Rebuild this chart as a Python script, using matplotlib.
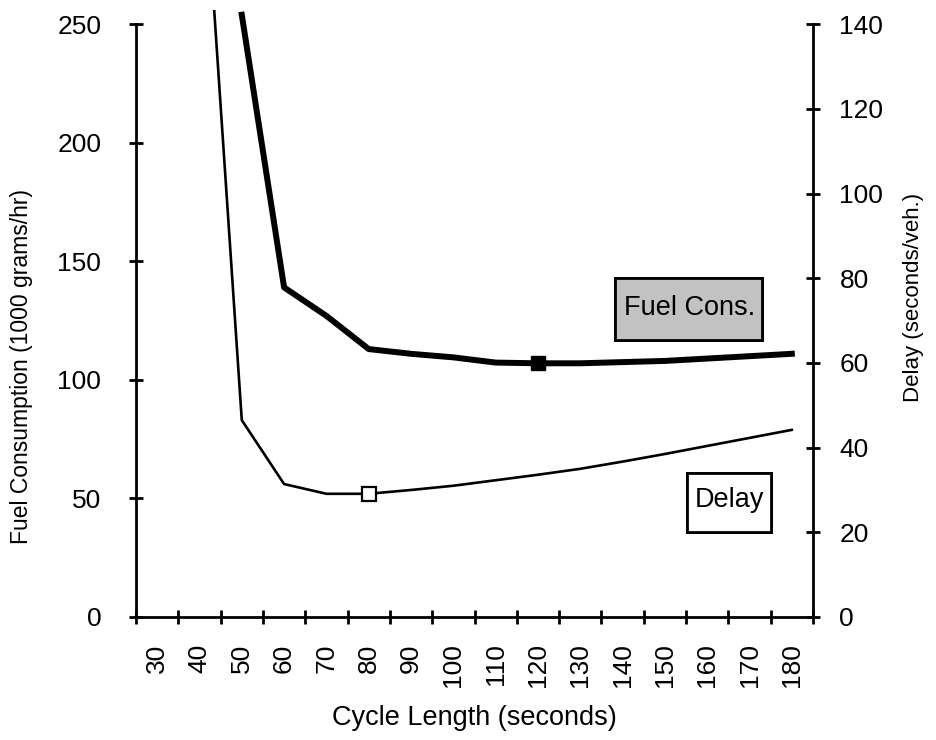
import numpy as np
import matplotlib
matplotlib.use("Agg")
import matplotlib.pyplot as plt
from matplotlib.patches import Rectangle
import matplotlib.patheffects as pe

plt.rcParams['font.family'] = ['Liberation Sans', 'DejaVu Sans']

# data
cycle_length = [30, 40, 50, 60, 70, 80, 90, 100, 110, 120, 130, 140, 150, 160, 170, 180]
fuel = [np.nan, np.nan, 254, 139, 127, 113, 111, 109.5, 107.3, 107, 107, 107.5, 108, 109, 110, 111]
delay = [np.nan, 195, 46.5, 31.4, 29.1, 29.1, 30.0, 31.0, 32.3, 33.6, 35.0, 36.7, 38.5, 40.4, 42.3, 44.2]
fuel_mark = 9    # 120 s, optimum fuel
delay_mark = 5   # 80 s, optimum delay

fuel_ticks = [0, 50, 100, 150, 200, 250]
delay_ticks = [0, 20, 40, 60, 80, 100, 120, 140]

x = np.arange(len(cycle_length))

fig = plt.figure(figsize=(9.36, 7.4), dpi=100)
ax = fig.add_axes([136 / 936, 1 - 617 / 740, 677 / 936, 607 / 740])
ax2 = ax.twinx()

ytop = 256
ax.set_ylim(0, ytop)
ax2.set_ylim(0, 140 * ytop / 250)
ax.set_xlim(-0.5, len(x) - 0.5)

ax.plot(x, fuel, color='black', lw=4.3, solid_joinstyle='round')
ax.plot(x[fuel_mark], fuel[fuel_mark], 's', ms=10, mfc='black', mec='black')
ax2.plot(x, delay, color='black', lw=1.9)
ax2.plot(x[delay_mark], delay[delay_mark], 's', ms=10, mfc='white', mec='black', mew=1.6)

# spines
for a in (ax, ax2):
    for s in a.spines.values():
        s.set_linewidth(2)
ax.spines['top'].set_visible(False)
ax.spines['right'].set_visible(False)
ax2.spines['top'].set_visible(False)
ax2.spines['left'].set_visible(False)
ax2.spines['bottom'].set_visible(False)
ax.spines['left'].set_bounds(0, 250)
ax2.spines['right'].set_bounds(0, 140)

ax.set_yticks(fuel_ticks)
ax2.set_yticks(delay_ticks)
ax.tick_params(axis='y', direction='inout', length=10, width=2, pad=20, labelsize=19)
ax2.tick_params(axis='y', direction='inout', length=10, width=2, pad=14, labelsize=19)

ax.set_xticks(np.arange(-0.5, len(x), 1))
ax.set_xticklabels([])
ax.set_xticks(x, minor=True)
ax.set_xticklabels([str(c) for c in cycle_length], minor=True, rotation=90)
ax.tick_params(axis='x', which='major', direction='inout', length=10, width=2)
ax.tick_params(axis='x', which='minor', length=0, pad=19, labelsize=19)

fig.text(474 / 936, 1 - 718 / 740, 'Cycle Length (seconds)', ha='center', va='center', fontsize=19.5)
fig.text(22 / 936, 1 - 366 / 740, 'Fuel Consumption (1000 grams/hr)', ha='center', va='center',
         rotation=90, fontsize=16.5)
fig.text(913 / 936, 1 - 297 / 740, 'Delay (seconds/veh.)', ha='center', va='center',
         rotation=90, fontsize=16)

# label boxes
shadow = [pe.withSimplePatchShadow(offset=(1.5, -1.5), shadow_rgbFace='black', alpha=1), pe.Normal()]
r1 = Rectangle((0.7075, 0.4563), 0.2172, 0.1022, transform=ax.transAxes, fc='#c2c2c2', ec='black', lw=2)
r1.set_path_effects(shadow)
ax.add_patch(r1)
ax.text(0.818, 0.509, 'Fuel Cons.', transform=ax.transAxes, ha='center', va='center', fontsize=19.5)

r2 = Rectangle((0.8139, 0.140), 0.1241, 0.0972, transform=ax.transAxes, fc='white', ec='black', lw=2)
r2.set_path_effects(shadow)
ax.add_patch(r2)
ax.text(0.877, 0.193, 'Delay', transform=ax.transAxes, ha='center', va='center', fontsize=19.5)

fig.savefig('out.png', dpi=100)
